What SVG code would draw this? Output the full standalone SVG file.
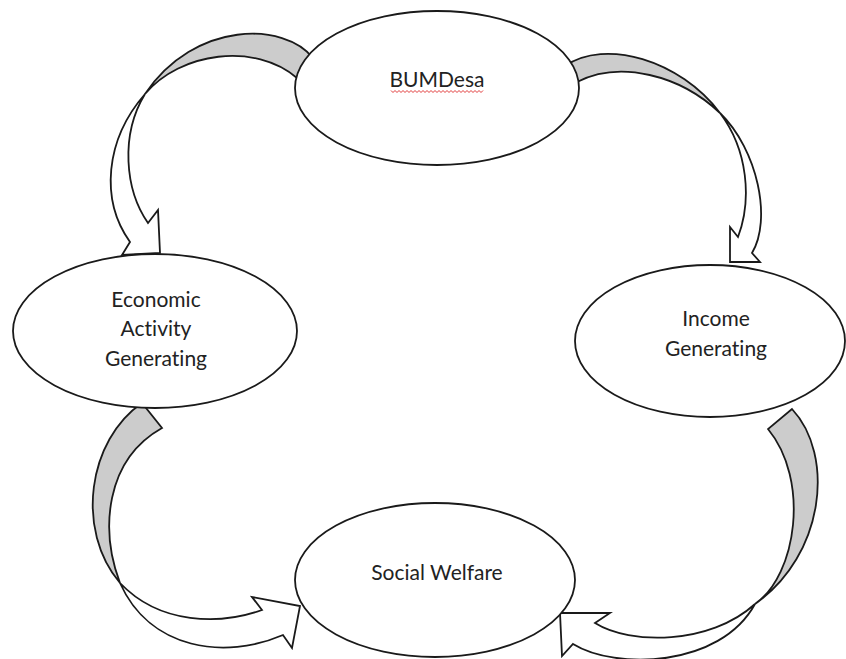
<svg xmlns="http://www.w3.org/2000/svg" width="846" height="659" viewBox="0 0 846 659">
<style>
.bg{fill:#ffffff}
.band{fill:#cccccc;stroke:#1a1a1a;stroke-width:1.8;stroke-linejoin:miter}
.body{fill:#ffffff;stroke:#1a1a1a;stroke-width:1.8;stroke-linejoin:miter}
.node{fill:#ffffff;stroke:#1a1a1a;stroke-width:1.8}
.lbl{font-family:Lato,"Liberation Sans",Arial,sans-serif;font-size:21px;fill:#222222;text-anchor:middle;font-variant-ligatures:none;font-feature-settings:"liga" 0,"clig" 0,"dlig" 0}
.squig{fill:none;stroke:#e23a3a;stroke-width:1}
</style>
<rect class="bg" x="0" y="0" width="846" height="659"/>
<g id="connectors">
  <g id="arrow-bumdesa-economic">
    <path class="band" d="M313,58 C285,22 195,20 145,94 C180,52 255,42 297,78 Z"/>
    <path class="body" d="M145,94 C105,140 100,200 130,242 L122,255 L160,253 L158,210 L148,223 C125,190 120,135 145,94 Z"/>
  </g>
  <g id="arrow-bumdesa-income">
    <path class="band" d="M565,66 C605,38 680,60 720,113 C680,75 620,60 577,82 Z"/>
    <path class="body" d="M720,113 C758,150 772,220 752,253 L760,262 L730,262 L730,227 L738,237 C752,200 748,150 720,113 Z"/>
  </g>
  <g id="arrow-economic-social">
    <path class="band" d="M142,403 C88,440 75,530 120,583 C100,530 105,460 162,428 Z"/>
    <path class="body" d="M120,583 C160,625 220,625 262,610 L252,597 L300,606 L292,648 L283,635 C225,660 150,650 120,583 Z"/>
  </g>
  <g id="arrow-income-social">
    <path class="band" d="M792,409 C835,455 825,555 755,604 C797,575 810,480 768,429 Z"/>
    <path class="body" d="M755,604 C710,645 630,645 595,623 L610,613 L560,613 L562,656 L573,644 C615,670 720,668 755,604 Z"/>
  </g>
</g>
<g id="node-bumdesa">
  <ellipse class="node" cx="437" cy="88" rx="142" ry="77"/>
  <text class="lbl" x="437" y="87">BUMDesa</text>
  <path class="squig" d="M391,90.5 l2,2 2,-2 2,2 2,-2 2,2 2,-2 2,2 2,-2 2,2 2,-2 2,2 2,-2 2,2 2,-2 2,2 2,-2 2,2 2,-2 2,2 2,-2 2,2 2,-2 2,2 2,-2 2,2 2,-2 2,2 2,-2 2,2 2,-2 2,2 2,-2 2,2 2,-2 2,2 2,-2 2,2 2,-2 2,2 2,-2 2,2 2,-2 2,2 2,-2 2,2 2,-2"/>
</g>
<g id="node-economic">
  <ellipse class="node" cx="155" cy="331" rx="142" ry="77"/>
  <text class="lbl" x="156" y="307">Economic</text>
  <text class="lbl" x="156" y="336">Activity</text>
  <text class="lbl" x="156" y="366">Generating</text>
</g>
<g id="node-income">
  <ellipse class="node" cx="710" cy="341" rx="135" ry="76"/>
  <text class="lbl" x="716" y="326">Income</text>
  <text class="lbl" x="716" y="356">Generating</text>
</g>
<g id="node-social">
  <ellipse class="node" cx="435" cy="580" rx="140" ry="77"/>
  <text class="lbl" x="437" y="580">Social Welfare</text>
</g>
</svg>
